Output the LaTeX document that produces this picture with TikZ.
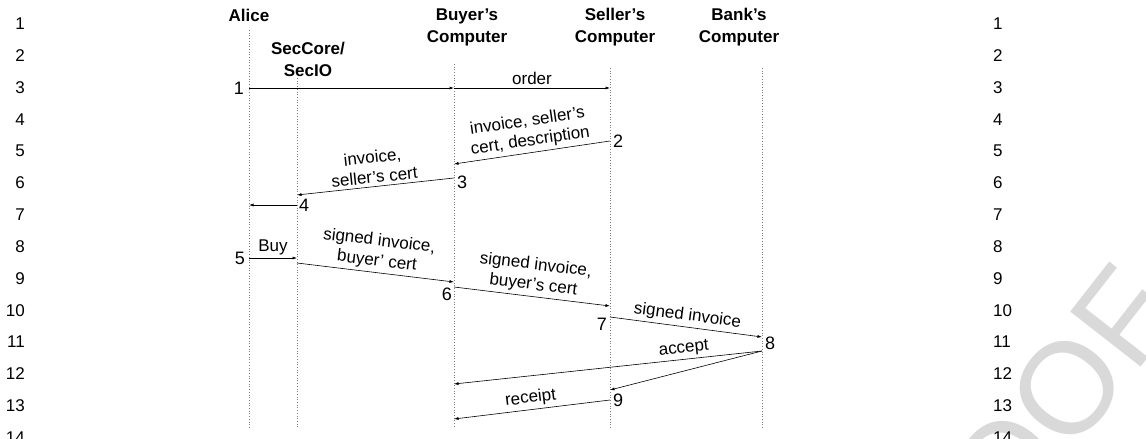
\documentclass[tikz,border=0pt]{standalone}
\usepackage{fontspec}
\setmainfont{Liberation Sans}
\usetikzlibrary{arrows.meta,positioning}
\tikzset{
  lifeline/.style={draw=gray, dotted, line width=0.7pt},
  msg/.style={draw=black, line width=0.6pt, -{Latex[length=4.5pt,width=3pt]}},
  msglabel/.style={font=\fontsize{17}{20}\selectfont, sloped, above, align=center, inner sep=3pt},
  hdr/.style={font=\fontsize{17}{22}\selectfont\bfseries, align=center, inner sep=0pt},
  evnum/.style={font=\fontsize{18}{20}\selectfont, inner sep=1pt},
  linenum/.style={font=\fontsize{17}{20}\selectfont, inner sep=0pt}
}
\begin{document}
\begin{tikzpicture}[x=1pt,y=1pt]
\useasboundingbox (0,0) rectangle (1146,-439);
% watermark
\begin{scope}
\clip (0,0) rectangle (1146,-439);
\node[rotate=52, anchor=base east, inner sep=0pt, text=black!15, font=\fontsize{130}{130}\selectfont] (wm) at (1183,-313) {PROOF};
\end{scope}
% line numbers
\foreach \n in {1,...,14} {
  \pgfmathsetmacro\ly{-24-(\n-1)*31.8}
  \node[linenum, anchor=east] (ll\n) at (25,\ly) {\n};
  \node[linenum, anchor=west] (rl\n) at (993,\ly) {\n};
}
% headers
\node[hdr] (alice) at (249,-15) {Alice};
\node[hdr] (sec) at (308,-59) {SecCore/\\SecIO};
\node[hdr] (buyer) at (467,-27) {Buyer's\\Computer};
\node[hdr] (seller) at (615,-27) {Seller's\\Computer};
\node[hdr] (bank) at (739,-27) {Bank's\\Computer};
% lifelines
\foreach \nm/\x/\yt in {alice/249/30, sec/297/78, buyer/454/64, seller/610/68, bank/762/68} {
  \coordinate (\nm top) at (\x,-\yt);
  \coordinate (\nm bot) at (\x,-428);
  \draw[lifeline] (\nm top) -- (\nm bot);
}
% message ends
\coordinate (a1) at (249,-88);
\coordinate (b1) at (454,-88);
\coordinate (e1) at (610,-88);
\coordinate (e2) at (610,-141);
\coordinate (b2) at (454,-164);
\coordinate (b3) at (454,-178);
\coordinate (s3) at (297,-195);
\coordinate (s4) at (297,-205);
\coordinate (a4) at (249,-205);
\coordinate (a5) at (249,-258);
\coordinate (s5) at (297,-258);
\coordinate (s6) at (297,-263);
\coordinate (b6) at (454,-282);
\coordinate (b7) at (454,-287);
\coordinate (e7) at (610,-306);
\coordinate (e8) at (610,-317);
\coordinate (k8) at (762,-337);
\coordinate (k9) at (762,-351);
\coordinate (b9) at (454,-384);
\coordinate (e9) at (610,-390);
\coordinate (e10) at (610,-400);
\coordinate (b10) at (454,-419);
% messages
\draw[msg] (a1) -- (b1);
\draw[msg] (b1) -- node[msglabel] (lorder) {order} (e1);
\draw[msg] (e2) -- node[msglabel] (linv) {invoice, seller's\\cert, description} (b2);
\draw[msg] (b3) -- node[msglabel] (linv2) {invoice,\\seller's cert} (s3);
\draw[msg] (s4) -- (a4);
\draw[msg] (a5) -- node[msglabel] (lbuy) {Buy} (s5);
\draw[msg] (s6) -- node[msglabel] (lsig) {signed invoice,\\buyer' cert} (b6);
\draw[msg] (b7) -- node[msglabel] (lsig2) {signed invoice,\\buyer's cert} (e7);
\draw[msg] (e8) -- node[msglabel] (lsig3) {signed invoice} (k8);
\draw[msg] (k9) -- node[msglabel, pos=0.25] (lacc) {accept} (b9);
\draw[msg] (k9) -- (e9);
\draw[msg] (e10) -- node[msglabel] (lrec) {receipt} (b10);
% step numbers
\node[evnum, left=4pt of a1] (n1) {1};
\node[evnum, right=2pt of e2] (n2) {2};
\node[evnum, below right=-3pt and 2pt of b3] (n3) {3};
\node[evnum, right=1pt of s4] (n4) {4};
\node[evnum, left=3pt of a5] (n5) {5};
\node[evnum, below left=0pt and 1pt of b7] (n6) {6};
\node[evnum, below left=0pt and 2pt of e8] (n7) {7};
\node[evnum, above right=0pt and 2pt of k9] (n8) {8};
\node[evnum, right=2pt of e10] (n9) {9};
\end{tikzpicture}
\end{document}
